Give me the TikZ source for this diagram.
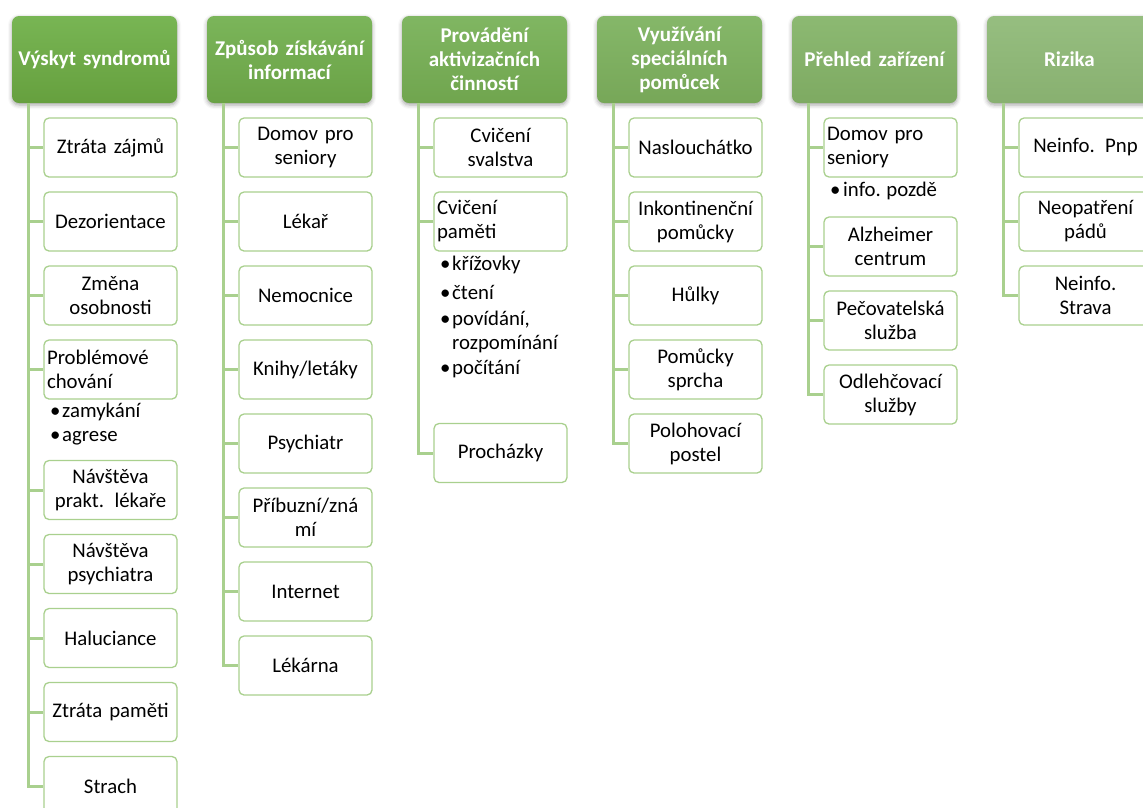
\documentclass[tikz,border=0pt]{standalone}
\usepackage{fontspec}
\setmainfont{Carlito}[WordSpace=0.85]
\usetikzlibrary{shadows.blur}
\definecolor{ln}{RGB}{169,208,142}
\definecolor{hAt}{RGB}{120,181,84}\definecolor{hAb}{RGB}{102,160,62}
\definecolor{hBt}{RGB}{123,181,90}\definecolor{hBb}{RGB}{106,162,70}
\definecolor{hCt}{RGB}{128,182,98}\definecolor{hCb}{RGB}{112,165,78}
\definecolor{hDt}{RGB}{133,183,105}\definecolor{hDb}{RGB}{119,167,88}
\definecolor{hEt}{RGB}{140,185,114}\definecolor{hEb}{RGB}{126,170,98}
\definecolor{hFt}{RGB}{150,190,128}\definecolor{hFb}{RGB}{136,176,112}
\begin{document}
\begin{tikzpicture}[x=1pt,y=-1pt,
 hdr/.style={rounded corners=7pt, minimum width=165pt, minimum height=87pt, text width=162pt, align=center,
   font=\bfseries\fontsize{21}{24}\selectfont, text=white, inner sep=0pt,
   blur shadow={shadow xshift=0pt, shadow yshift=-2pt, shadow blur radius=4pt, shadow opacity=35}},
 box/.style={draw=ln, line width=1.3pt, fill=white, rounded corners=5pt, minimum width=133pt, minimum height=59pt,
   text width=127pt, align=center, font=\fontsize{20.8}{24}\selectfont, inner sep=0pt},
 lbox/.style={box, align=left},
 conn/.style={draw=ln, line width=3pt},
 bul/.style={anchor=west, font=\fontsize{20.8}{24}\selectfont, inner sep=0pt}]
\useasboundingbox (0,0) rectangle (1143,807);

% headers
\node[hdr, top color=hAt, bottom color=hAb] (h1) at (94.5,59.5) {Výskyt syndromů};
\node[hdr, top color=hBt, bottom color=hBb] (h2) at (289.5,59.5) {Způsob získávání\\informací};
\node[hdr, top color=hCt, bottom color=hCb] (h3) at (484.5,59.5) {Provádění\\aktivizačních\\činností};
\node[hdr, top color=hDt, bottom color=hDb] (h4) at (679.5,59.5) {Využívání\\speciálních\\pomůcek};
\node[hdr, top color=hEt, bottom color=hEb] (h5) at (874.5,59.5) {Přehled zařízení};
\node[hdr, top color=hFt, bottom color=hFb] (h6) at (1069.5,59.5) {Rizika};

% trunk coordinates
\coordinate (t1) at (28,0);
\coordinate (t2) at (223,0);
\coordinate (t3) at (418,0);
\coordinate (t4) at (613,0);
\coordinate (t5) at (808,0);
\coordinate (t6) at (1003,0);

% column 1
\node[box] (a1) at (110.5,147.5) {Ztráta zájmů};
\node[box] (a2) at (110.5,221.5) {Dezorientace};
\node[box] (a3) at (110.5,295.5) {Změna\\osobnosti};
\node[lbox] (a4) at (110.5,369.5) {Problémové\\chování};
\node[bul] (a4b1) at (50,412) {\makebox[12pt][l]{•}zamykání};
\node[bul] (a4b2) at (50,438) {\makebox[12pt][l]{•}agrese};
\node[box] (a5) at (110.5,490) {Návštěva\\prakt. lékaře};
\node[box] (a6) at (110.5,564) {Návštěva\\psychiatra};
\node[box] (a7) at (110.5,638) {Haluciance};
\node[box] (a8) at (110.5,712) {Ztráta paměti};
\node[box] (a9) at (110.5,786) {Strach};

% column 2
\node[box] (b1) at (305.5,147.5) {Domov pro\\seniory};
\node[box] (b2) at (305.5,221.5) {Lékař};
\node[box] (b3) at (305.5,295.5) {Nemocnice};
\node[box] (b4) at (305.5,369.5) {Knihy/letáky};
\node[box] (b5) at (305.5,443.5) {Psychiatr};
\node[box] (b6) at (305.5,517.5) {Příbuzní/zná\\mí};
\node[box] (b7) at (305.5,591.5) {Internet};
\node[box] (b8) at (305.5,665.5) {Lékárna};

% column 3
\node[box] (c1) at (500.5,147.5) {Cvičení\\svalstva};
\node[lbox] (c2) at (500.5,221.5) {Cvičení\\paměti};
\node[bul] (c2b1) at (440,265) {\makebox[12pt][l]{•}křížovky};
\node[bul] (c2b2) at (440,292) {\makebox[12pt][l]{•}čtení};
\node[bul] (c2b3) at (440,320) {\makebox[12pt][l]{•}povídání,};
\node[bul] (c2b3b) at (452,344) {rozpomínání};
\node[bul] (c2b4) at (440,369) {\makebox[12pt][l]{•}počítání};
\node[box] (c3) at (500.5,453) {Procházky};

% column 4
\node[box] (d1) at (695.5,147.5) {Naslouchátko};
\node[box] (d2) at (695.5,221.5) {Inkontinenční\\pomůcky};
\node[box] (d3) at (695.5,295.5) {Hůlky};
\node[box] (d4) at (695.5,369.5) {Pomůcky\\sprcha};
\node[box] (d5) at (695.5,443.5) {Polohovací\\postel};

% column 5
\node[lbox] (e1) at (890.5,147.5) {Domov pro\\seniory};
\node[bul] (e1b1) at (830,191) {\makebox[13pt][l]{•}info. pozdě};
\node[box] (e2) at (890.5,246.5) {Alzheimer\\centrum};
\node[box] (e3) at (890.5,320.5) {Pečovatelská\\služba};
\node[box] (e4) at (890.5,394.5) {Odlehčovací\\služby};

% column 6
\node[box] (f1) at (1085.5,147.5) {Neinfo. Pnp};
\node[box] (f2) at (1085.5,221.5) {Neopatření\\pádů};
\node[box] (f3) at (1085.5,295.5) {Neinfo.\\Strava};

% connectors
\draw[conn] (h1.south -| t1) |- (a9.west);
\foreach \n in {a1,a2,a3,a4,a5,a6,a7,a8} \draw[conn] (t1 |- \n.west) -- (\n.west);
\draw[conn] (h2.south -| t2) |- (b8.west);
\foreach \n in {b1,b2,b3,b4,b5,b6,b7} \draw[conn] (t2 |- \n.west) -- (\n.west);
\draw[conn] (h3.south -| t3) |- (c3.west);
\foreach \n in {c1,c2} \draw[conn] (t3 |- \n.west) -- (\n.west);
\draw[conn] (h4.south -| t4) |- (d5.west);
\foreach \n in {d1,d2,d3,d4} \draw[conn] (t4 |- \n.west) -- (\n.west);
\draw[conn] (h5.south -| t5) |- (e4.west);
\foreach \n in {e1,e2,e3} \draw[conn] (t5 |- \n.west) -- (\n.west);
\draw[conn] (h6.south -| t6) |- (f3.west);
\foreach \n in {f1,f2} \draw[conn] (t6 |- \n.west) -- (\n.west);
\end{tikzpicture}
\end{document}
